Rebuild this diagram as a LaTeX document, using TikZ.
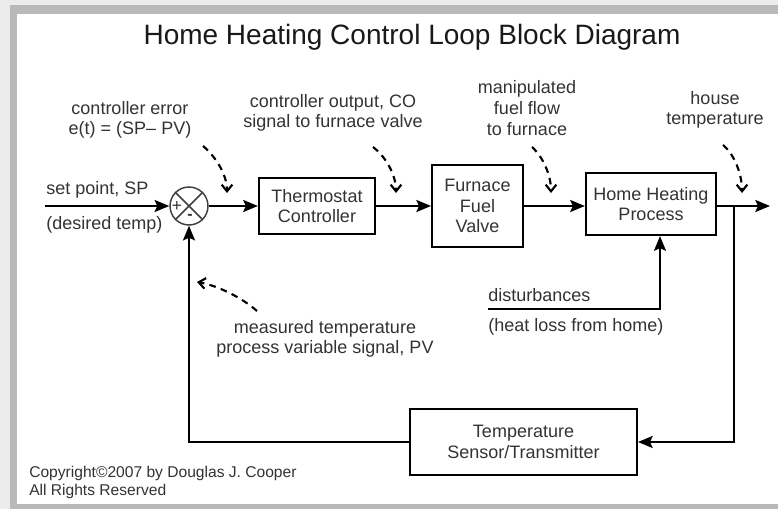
\documentclass[tikz,border=0pt]{standalone}
\usepackage{fontspec}
\setmainfont{Liberation Sans}
\usetikzlibrary{positioning, arrows.meta, calc}

\begin{document}
\begin{tikzpicture}[
    x=0.75pt, y=-0.75pt,
    block/.style={draw, rectangle, line width=1.7pt, align=center, font=\fontsize{13.5}{15.5}\selectfont, text=black!80, inner sep=0pt},
    lbl/.style={align=center, font=\fontsize{13.5}{15.5}\selectfont, text=black!80, inner sep=0pt},
    sig/.style={-{Stealth[length=11pt, width=9pt, inset=2pt]}, line width=1.6pt},
    note/.style={-{Straight Barb[length=5pt, width=8pt]}, line width=1.6pt, dash pattern=on 5pt off 4pt}
]
    % frame
    \fill[gray!15] (0,0) rectangle (778,509);
    \fill[gray!55] (10,5) rectangle (778,509);
    \fill[white] (17,14) rectangle (778,504);
    \useasboundingbox (0,0) rectangle (778,509);

    \node[font=\fontsize{21}{25}\selectfont, text=black!90] (title) at (412,37) {Home Heating Control Loop Block Diagram};

    % forward path
    \node[circle, draw=black!75, line width=1.1pt, minimum size=28.5pt, inner sep=0pt] (sum) at (189,206) {};
    \draw[black!75, line width=1.1pt] (sum.north west) -- (sum.south east) (sum.north east) -- (sum.south west);
    \node[font=\fontsize{13}{13}\selectfont, text=black!80, inner sep=0pt] (plus) at (177,207) {+};
    \node[font=\bfseries\fontsize{12}{12}\selectfont, text=black!80, inner sep=0pt] (minus) at (190,217) {-};

    \node[block, minimum width=87pt, minimum height=42pt] (thermo) at (317,206) {Thermostat\\Controller};
    \node[block, minimum width=68pt, minimum height=61pt] (valve) at (477.5,206) {Furnace\\Fuel\\Valve};
    \node[block, minimum width=97.5pt, minimum height=46.5pt] (process) at (651,204) {Home Heating\\Process};
    \node[block, minimum width=170pt, minimum height=49.5pt] (sensor) at (523.5,442) {Temperature\\Sensor/Transmitter};

    \coordinate (spin) at (45,206);
    \coordinate (branch) at (734,206);
    \coordinate (outend) at (770,206);
    \coordinate (dstart) at (488,309);
    \coordinate (dturn) at (660,309);

    \draw[sig] (spin) -- (sum.west);
    \draw[sig] (sum.east) -- (thermo.west);
    \draw[sig] (thermo.east) -- (valve.west);
    \draw[sig] (valve.east) -- (valve.east -| process.west);
    \draw[sig] (process.east |- branch) -- (outend);
    \draw[sig] (branch) |- (sensor.east);
    \draw[sig] (sensor.west) -| (sum.south);
    \draw[sig] (dstart) -- (dturn) -- (dturn |- process.south);

    % signal labels
    \node[lbl, anchor=west] (splbl) at (46,190) {set point, SP};
    \node[lbl, anchor=west] (deslbl) at (46,225) {(desired temp)};
    \node[lbl] (errlbl) at (130,120) {controller error\\e(t) = (SP– PV)};
    \node[lbl] (colbl) at (333,113) {controller output, CO\\signal to furnace valve};
    \node[lbl] (mvlbl) at (527,108) {manipulated\\fuel flow\\to furnace};
    \node[lbl] (pvtlbl) at (715,110) {house\\temperature};
    \node[lbl] (pvlbl) at (325,339) {measured temperature\\process variable signal, PV};
    \node[lbl, anchor=west] (dlbl) at (488,295) {disturbances};
    \node[lbl, anchor=west] (hllbl) at (488,327) {(heat loss from home)};

    % dashed pointers
    \coordinate (e1) at (203,146);
    \coordinate (e2) at (227,193);
    \coordinate (c1) at (373,147);
    \coordinate (c2) at (396,193);
    \coordinate (m1) at (532,147);
    \coordinate (m2) at (551,193);
    \coordinate (h1) at (723,145);
    \coordinate (h2) at (742,193);
    \coordinate (p1) at (257,311);
    \coordinate (p2) at (197,282);
    \draw[note] (e1) .. controls (215,156) and (227,174) .. (e2);
    \draw[note] (c1) .. controls (386,157) and (396,175) .. (c2);
    \draw[note] (m1) .. controls (543,157) and (551,175) .. (m2);
    \draw[note] (h1) .. controls (735,155) and (742,175) .. (h2);
    \draw[note] (p1) .. controls (240,296) and (215,285) .. (p2);

    \node[anchor=west, align=left, font=\fontsize{11.7}{13.5}\selectfont, text=black!80, inner sep=0pt] (copy) at (29,482) {Copyright©2007 by Douglas J. Cooper\\ All Rights Reserved};
\end{tikzpicture}
\end{document}
